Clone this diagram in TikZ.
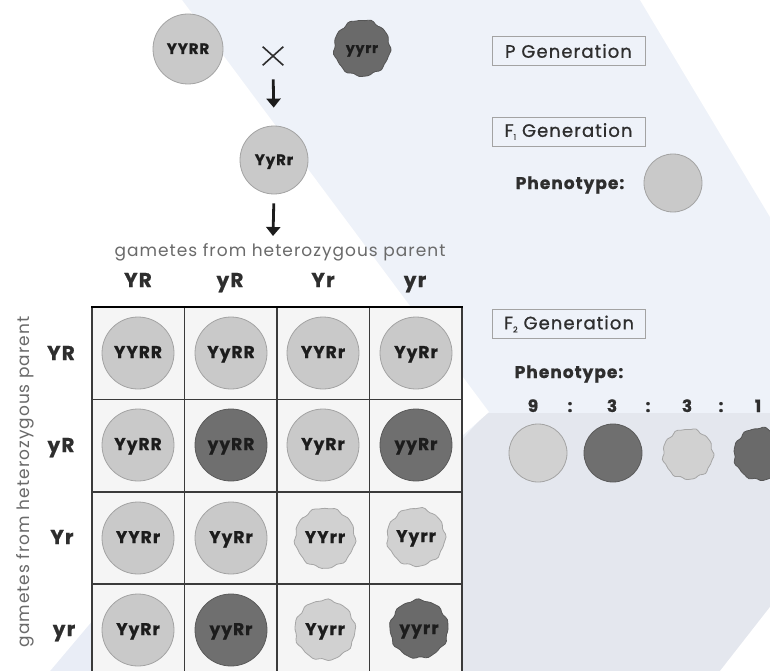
\documentclass[tikz,border=0pt]{standalone}
\usepackage{fontspec}
\setmainfont{Poppins}[LetterSpace=6, BoldFeatures={FakeBold=0.8}]
\newfontfamily\medfont{Poppins}[LetterSpace=6, FakeBold=0.9]
\usetikzlibrary{arrows.meta,shapes.misc}

\definecolor{bandblue}{HTML}{EEF2F9}
\definecolor{lowgray}{HTML}{E4E7EE}
\definecolor{cornerblue}{HTML}{E9EDF6}
\definecolor{cellbg}{HTML}{F5F5F5}
\definecolor{peaL}{HTML}{C9C9C9}
\definecolor{peaLrim}{HTML}{A3A3A3}
\definecolor{peaD}{HTML}{6F6F6F}
\definecolor{peaDrim}{HTML}{5A5A5A}
\definecolor{wrL}{HTML}{D1D1D1}
\definecolor{wrLrim}{HTML}{A6A6A6}
\definecolor{wrD}{HTML}{6A6A6A}
\definecolor{wrDrim}{HTML}{555555}
\definecolor{inktext}{HTML}{1C1C1C}
\definecolor{softtext}{HTML}{6A6A6A}
\definecolor{headtext}{HTML}{2E2E2E}
\definecolor{gridline}{HTML}{3A3A3A}

% wrinkled pea outline: centre x, centre y, radius, style, phase
\newcommand{\wrinkled}[5]{%
  \draw[#4] plot[smooth cycle, samples=60, domain=0:354, variable=\t]
    ({#1+(#3+0.8*sin(9*\t+#5)+0.5*sin(15*\t+2*#5))*cos(\t)},
     {#2+(#3+0.8*sin(9*\t+#5)+0.5*sin(15*\t+2*#5))*sin(\t)});}

\begin{document}
\begin{tikzpicture}[x=1pt,y=-1pt,
  smooth pea/.style={circle, inner sep=0, line width=0.8pt, minimum size=#1,
    font=\fontsize{17}{17}\selectfont\bfseries, text=inktext,
    text height=12pt, text depth=2pt},
  light pea/.style={smooth pea=#1, fill=peaL, draw=peaLrim},
  dark pea/.style={smooth pea=#1, fill=peaD, draw=peaDrim},
  pea label/.style={circle, inner sep=0, minimum size=40,
    font=\fontsize{17}{17}\selectfont\bfseries, text=inktext,
    text height=12pt, text depth=2pt},
  wr light/.style={fill=wrL, draw=wrLrim, line width=0.8pt},
  wr dark/.style={fill=wrD, draw=wrDrim, line width=0.8pt},
  allele/.style={font=\fontsize{20}{20}\selectfont\bfseries, text=headtext,
    inner sep=0, text height=14pt, text depth=2pt},
  genbox/.style={draw=peaLrim, line width=0.8pt, minimum width=153, minimum height=29,
    inner sep=0, font=\fontsize{18}{18}\medfont, text=headtext},
  phenolabel/.style={font=\fontsize{17}{17}\selectfont\bfseries, text=headtext, inner sep=0},
  ratio/.style={font=\fontsize{17}{17}\selectfont\bfseries, text=headtext, inner sep=0,
    text height=12pt, text depth=0pt},
  gamlabel/.style={font=\fontsize{17}{17}\selectfont, text=softtext, inner sep=0},
  fatarrow/.style={draw=inktext, line width=2.8pt, -{Triangle[length=9pt,width=14pt]}}
]
\useasboundingbox (0,0) rectangle (770,671);
\clip (0,0) rectangle (770,671);

% background bands
\fill[bandblue] (0,0) rectangle (770,671);
\fill[lowgray] (486,413) -- (770,413) -- (770,671) -- (462,671) -- (462,440) -- cycle;
\fill[cornerblue] (0,560) -- (140,560) -- (140,671) -- (0,671) -- cycle;
\fill[white] (0,0) -- (182,0) -- (489,412) -- (462,436) -- (93,620) -- (50,671) -- (0,671) -- cycle;
\fill[white] (640,0) -- (770,0) -- (770,217) -- cycle;
\fill[white] (770,607) -- (770,671) -- (720,671) -- cycle;

% parents and F1
\node[light pea=70, font=\fontsize{15}{15}\selectfont\bfseries] (pYYRR) at (188,49) {YYRR};
\node[cross out, draw=headtext, line width=1.6pt, minimum width=19, minimum height=17, inner sep=0] (cross) at (273,56) {};
\wrinkled{362}{48}{28}{wr dark}{30}
\node[pea label, font=\fontsize{14}{14}\selectfont\bfseries] (pyyrr) at (362,48) {yyrr};
\node[light pea=68, font=\fontsize{15}{15}\selectfont\bfseries] (f1) at (274,160) {YyRr};

\node[gamlabel] (gamtop) at (280,252) {gametes from heterozygous parent};
\coordinate (gamtip) at (273,236);

\draw[fatarrow, shorten <=14pt, shorten >=18pt] (cross.south) -- (f1.north);
\draw[fatarrow, shorten <=9pt] (f1.south) -- (gamtip);

% column and row alleles
\node[allele] (colA) at (138,281) {YR};
\node[allele] (colB) at (230,281) {yR};
\node[allele] (colC) at (323,281) {Yr};
\node[allele] (colD) at (415,281) {yr};
\node[allele] (rowA) at (61,354) {YR};
\node[allele] (rowB) at (61,446) {yR};
\node[allele] (rowC) at (62,538) {Yr};
\node[allele] (rowD) at (64,630) {yr};
\node[gamlabel, rotate=90] (gamside) at (25,482) {gametes from heterozygous parent};

% Punnett square
\fill[cellbg] (92,307) rectangle (462,678);
\foreach \gx in {92,184.5,277,369.5,462}
  \draw[gridline, line width=1.6pt] (\gx,307) -- (\gx,678);
\foreach \gy in {399.4,491.8,584.2}
  \draw[gridline, line width=1.6pt] (92,\gy) -- (462,\gy);
\draw[black, line width=2pt] (91,307) -- (463,307);

% row YR
\node[light pea=72] (c11) at (138,353) {YYRR};
\node[light pea=72] (c12) at (231,353) {YyRR};
\node[light pea=72] (c13) at (323,353) {YYRr};
\node[light pea=72] (c14) at (416,353) {YyRr};
% row yR
\node[light pea=72] (c21) at (138,445) {YyRR};
\node[dark pea=72]  (c22) at (231,445) {yyRR};
\node[light pea=72] (c23) at (323,445) {YyRr};
\node[dark pea=72]  (c24) at (416,445) {yyRr};
% row Yr
\node[light pea=72] (c31) at (138,538) {YYRr};
\node[light pea=72] (c32) at (231,538) {YyRr};
\wrinkled{325}{538}{30}{wr light}{10}
\node[pea label] (c33) at (325,538) {YYrr};
\wrinkled{416}{537}{29}{wr light}{70}
\node[pea label] (c34) at (416,537) {Yyrr};
% row yr
\node[light pea=72] (c41) at (138,630) {YyRr};
\node[dark pea=72]  (c42) at (231,630) {yyRr};
\wrinkled{325}{630}{30}{wr light}{130}
\node[pea label] (c43) at (325,630) {Yyrr};
\wrinkled{419}{629}{29}{wr dark}{200}
\node[pea label] (c44) at (419,629) {yyrr};

% generation panels
\node[genbox] (pgen) at (568.5,51) {P Generation};
\node[genbox] (f1gen) at (568.5,131.5) {F{\fontsize{8}{8}\selectfont\raisebox{-3pt}{1}} Generation};
\node[phenolabel] (f1phen) at (570,185) {Phenotype:};
\node[light pea=58] (f1pea) at (673,183) {};

\node[genbox] (f2gen) at (569,324) {F{\fontsize{8}{8}\selectfont\raisebox{-3pt}{2}} Generation};
\node[phenolabel] (f2phen) at (569,374) {Phenotype:};
\node[ratio] (r9) at (533,406) {9};
\node[ratio] (s1) at (570,406) {:};
\node[ratio] (r3a) at (612,406) {3};
\node[ratio] (s2) at (648,406) {:};
\node[ratio] (r3b) at (687,406) {3};
\node[ratio] (s3) at (721,406) {:};
\node[ratio] (r1) at (758,406) {1};

\node[light pea=58, fill=wrL] (f2a) at (538,453) {};
\node[dark pea=58] (f2b) at (613,453) {};
\wrinkled{688}{454}{25}{wr light}{40}
\coordinate (f2c) at (688,454);
\wrinkled{760}{454}{26}{wr dark}{100}
\coordinate (f2d) at (760,454);
\end{tikzpicture}
\end{document}
